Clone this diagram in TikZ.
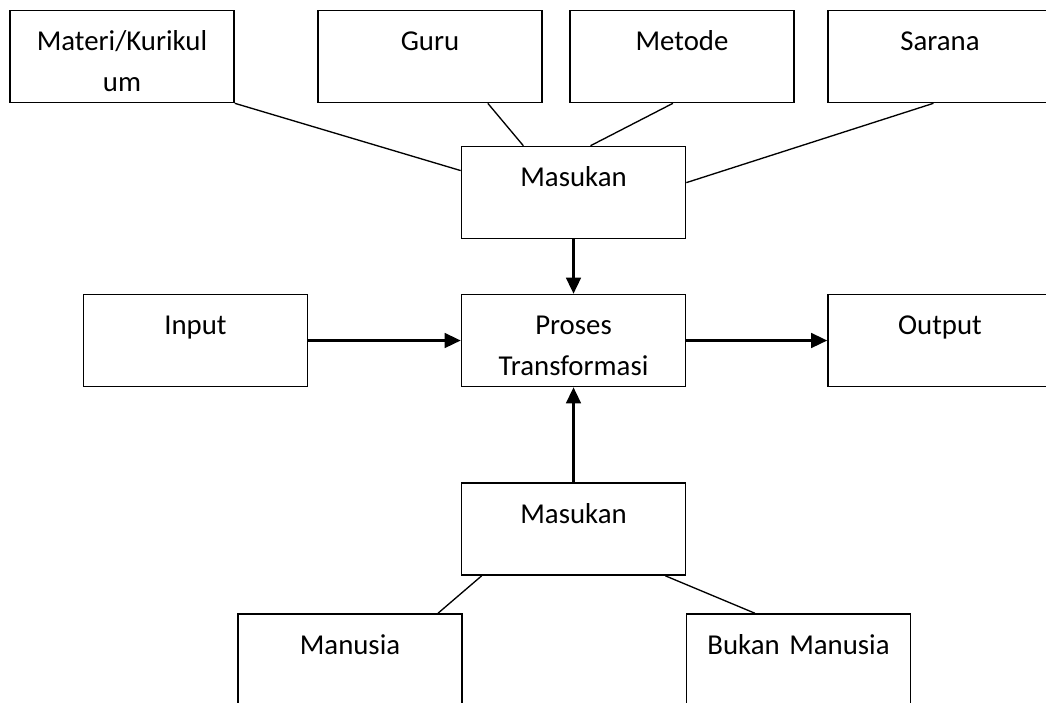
\documentclass[tikz,border=0pt]{standalone}
\usepackage{fontspec}
\setmainfont{Carlito}
\usetikzlibrary{arrows.meta}

\begin{document}
\begin{tikzpicture}[x=0.375pt,y=-0.375pt,
	kotak/.style={draw,line width=0.6pt,text width=80pt,inner xsep=2pt,inner ysep=0pt,
		text height=15pt,text depth=19.5pt,align=center,font=\fontsize{10.8}{15.5}\selectfont},
	garis/.style={line width=0.5pt},
	panah/.style={line width=0.9pt,-{Triangle[length=6pt,width=5.5pt]}}]
	\useasboundingbox (0,0) rectangle (1046,702);
	\clip (0,0) rectangle (1046,702);
	\foreach \X/\T [count=\Z] in {122/{Materi/Kurikul\\um}, 430/Guru, 682/Metode, 940/Sarana}
	{\node[kotak] (k\Z) at (\X,56.5) {\T};}
	\node[kotak] (m1) at (573.5,192.5) {Masukan};
	\node[kotak] (i) at (195.5,340.5) {Input};
	\node[kotak] (p) at (573.5,340.5) {Proses\\Transformasi};
	\node[kotak] (o) at (940,340.5) {Output};
	\node[kotak] (m2) at (573.5,529) {Masukan};
	\node[kotak] (k5) at (350,660) {Manusia};
	\node[kotak] (k6) at (798.5,660) {Bukan Manusia};
	\draw[garis] (k1.south east) -- (m1.169.7);
	\draw[garis] (k2.-39) -- (m1.137.7);
	\draw[garis] (k3.-101) -- (m1.70);
	\draw[garis] (k4.-98) -- (m1.5.3);
	\draw[garis] (m2.207.4) -- (k5.28.6);
	\draw[garis] (m2.-27.1) -- (k6.133.4);
	\draw[panah] (m1.south) -- (p.north);
	\draw[panah] (m2.north) -- (p.south);
	\draw[panah] (i.east) -- (p.west);
	\draw[panah] (p.east) -- (o.west);
\end{tikzpicture}
\end{document}
